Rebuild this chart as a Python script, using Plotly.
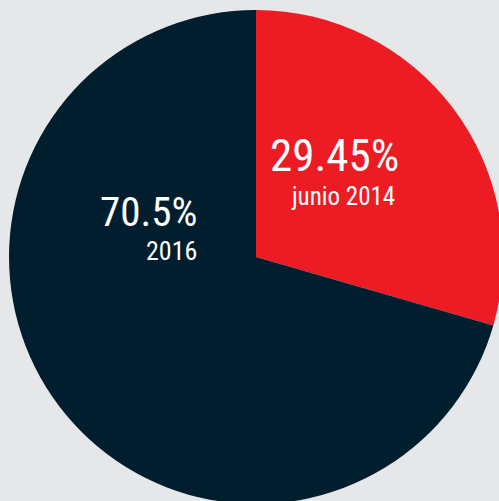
import plotly.graph_objects as go

labels = ["junio 2014", "2016"]
values = [29.45, 70.5]
value_text = ["29.45%", "70.5%"]
colors = ["#ED1C24", "#001E2E"]

W, H = 503, 504
BG = "#E6E7E8"
FONT = "Liberation Sans Narrow, Roboto Condensed, Arial Narrow, Roboto, sans-serif"

fig = go.Figure(go.Pie(
    labels=labels,
    values=values,
    marker=dict(colors=colors, line=dict(width=0)),
    sort=False,
    direction="clockwise",
    rotation=0,
    textinfo="none",
    hoverinfo="skip",
    showlegend=False,
    domain=dict(x=[9 / W, 1], y=[0, (H - 10) / H]),
))

def px(x, y):
    return x / W, 1 - y / H

ann = [
    (value_text[0], 401, 155, 45),
    (labels[0], 397, 197, 25),
    (value_text[1], 199, 212, 41),
    (labels[1], 199, 251, 26),
]
for txt, x, y, size in ann:
    xp, yp = px(x, y)
    fig.add_annotation(text=txt, x=xp, y=yp, xref="paper", yref="paper",
                       xanchor="right", yanchor="middle", showarrow=False,
                       font=dict(family=FONT, size=size, color="white"))

fig.update_layout(width=W, height=H, margin=dict(l=0, r=0, t=0, b=0),
                  paper_bgcolor=BG, plot_bgcolor=BG)

fig.write_html("out.html", config={"displayModeBar": False},
               post_script="document.body.style.margin='0';document.body.style.overflow='hidden';document.body.style.background='#E6E7E8';")
